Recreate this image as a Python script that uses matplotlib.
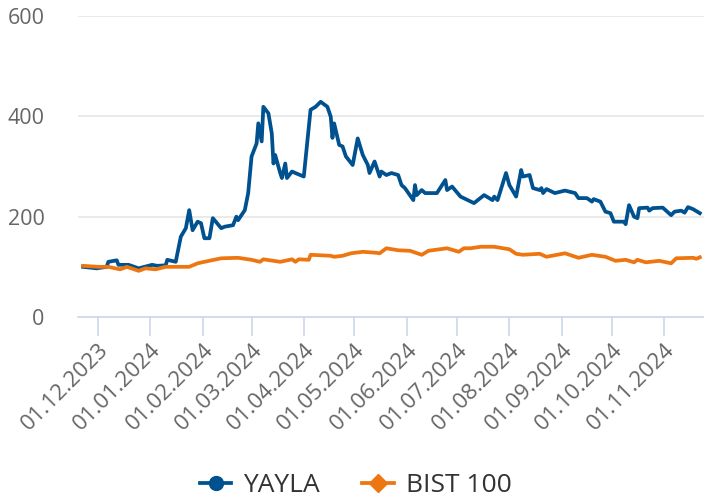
import pandas as pd
import matplotlib
matplotlib.use("Agg")
import matplotlib.pyplot as plt
import matplotlib.dates as mdates

plt.rcParams['font.family'] = ['Open Sans', 'DejaVu Sans']

# YAYLA, normalised to 100 at start
yayla_dates = [
    "2023-11-22", "2023-11-30", "2023-12-06", "2023-12-07", "2023-12-12", "2023-12-13",
    "2023-12-19", "2023-12-25", "2024-01-02", "2024-01-05", "2024-01-10", "2024-01-11",
    "2024-01-16", "2024-01-19", "2024-01-22", "2024-01-24", "2024-01-26", "2024-01-29",
    "2024-01-31", "2024-02-02", "2024-02-05", "2024-02-07", "2024-02-12", "2024-02-14",
    "2024-02-19", "2024-02-21", "2024-02-22", "2024-02-26", "2024-02-28", "2024-03-01",
    "2024-03-04", "2024-03-05", "2024-03-07", "2024-03-08", "2024-03-11", "2024-03-13",
    "2024-03-14", "2024-03-15", "2024-03-18", "2024-03-19", "2024-03-21", "2024-03-22",
    "2024-03-25", "2024-03-27", "2024-04-01", "2024-04-05", "2024-04-08", "2024-04-11",
    "2024-04-15", "2024-04-17", "2024-04-18", "2024-04-19", "2024-04-22", "2024-04-24",
    "2024-04-26", "2024-04-30", "2024-05-03", "2024-05-06", "2024-05-09", "2024-05-10",
    "2024-05-13", "2024-05-16", "2024-05-17", "2024-05-20", "2024-05-23", "2024-05-27",
    "2024-05-29", "2024-05-31", "2024-06-05", "2024-06-06", "2024-06-07", "2024-06-10",
    "2024-06-12", "2024-06-19", "2024-06-24", "2024-06-25", "2024-06-28", "2024-07-03",
    "2024-07-11", "2024-07-17", "2024-07-22", "2024-07-23", "2024-07-25", "2024-07-30",
    "2024-08-01", "2024-08-05", "2024-08-08", "2024-08-09", "2024-08-13", "2024-08-15",
    "2024-08-19", "2024-08-20", "2024-08-21", "2024-08-23", "2024-08-28", "2024-09-03",
    "2024-09-09", "2024-09-11", "2024-09-16", "2024-09-19", "2024-09-20", "2024-09-24",
    "2024-09-27", "2024-09-30", "2024-10-02", "2024-10-08", "2024-10-09", "2024-10-11",
    "2024-10-14", "2024-10-16", "2024-10-17", "2024-10-22", "2024-10-23", "2024-10-25",
    "2024-10-31", "2024-11-05", "2024-11-07", "2024-11-11", "2024-11-13", "2024-11-15",
    "2024-11-18", "2024-11-22",
]
yayla_values = [
    100, 97, 100, 110, 113, 104,
    104, 97, 104, 102, 103, 114,
    110, 160, 177, 213, 173, 190,
    187, 157, 157, 197, 177, 180,
    183, 200, 193, 213, 247, 320,
    346, 386, 350, 419, 406, 366,
    306, 323, 287, 277, 306, 277,
    290, 287, 280, 413, 419, 429,
    419, 399, 357, 386, 343, 340,
    320, 303, 356, 323, 303, 287,
    310, 280, 290, 283, 287, 283,
    263, 257, 233, 263, 243, 253,
    247, 247, 273, 253, 260, 240,
    227, 243, 233, 240, 233, 287,
    263, 240, 293, 280, 283, 257,
    253, 257, 247, 255, 247, 252,
    247, 237, 237, 230, 235, 230,
    210, 207, 190, 190, 185, 223,
    200, 197, 217, 218, 212, 217,
    218, 203, 210, 212, 208, 219,
    215, 207,
]

# BIST 100, normalised to 100 at start
bist_dates = [
    "2023-11-22", "2023-12-01", "2023-12-07", "2023-12-14", "2023-12-18", "2023-12-25",
    "2023-12-29", "2024-01-04", "2024-01-10", "2024-01-24", "2024-01-29", "2024-02-02",
    "2024-02-12", "2024-02-22", "2024-03-01", "2024-03-06", "2024-03-08", "2024-03-18",
    "2024-03-25", "2024-03-27", "2024-03-29", "2024-04-04", "2024-04-05", "2024-04-17",
    "2024-04-19", "2024-04-24", "2024-04-29", "2024-05-06", "2024-05-14", "2024-05-16",
    "2024-05-20", "2024-05-27", "2024-06-03", "2024-06-10", "2024-06-14", "2024-06-25",
    "2024-07-02", "2024-07-05", "2024-07-09", "2024-07-15", "2024-07-23", "2024-08-01",
    "2024-08-05", "2024-08-09", "2024-08-19", "2024-08-23", "2024-09-03", "2024-09-11",
    "2024-09-19", "2024-09-27", "2024-10-03", "2024-10-09", "2024-10-14", "2024-10-16",
    "2024-10-21", "2024-10-29", "2024-11-05", "2024-11-08", "2024-11-18", "2024-11-20",
    "2024-11-22",
]
bist_values = [
    102, 100, 100, 95, 100, 92,
    97, 95, 100, 100, 107, 110,
    117, 118, 114, 110, 115, 110,
    115, 110, 115, 114, 124, 122,
    120, 122, 127, 130, 128, 127,
    137, 133, 132, 124, 132, 137,
    130, 137, 137, 140, 140, 135,
    126, 124, 126, 120, 127, 118,
    124, 120, 112, 114, 109, 114,
    109, 112, 107, 117, 118, 116,
    119,
]

tick_dates = pd.date_range("2023-12-01", "2024-11-01", freq="MS")

blue = "#00518f"
orange = "#ee7611"

fig = plt.figure(figsize=(7.04, 4.99), dpi=100)
ax = fig.add_axes([78 / 704, 1 - 317 / 499, 626 / 704, 301 / 499])

ax.plot(pd.to_datetime(yayla_dates), yayla_values, color=blue, lw=2.7,
        marker='o', markersize=0.01, label="YAYLA", solid_joinstyle='round')
ax.plot(pd.to_datetime(bist_dates), bist_values, color=orange, lw=2.7,
        marker='D', markersize=0.01, label="BIST 100", solid_joinstyle='round')

ax.set_ylim(0, 600)
ax.set_yticks([0, 200, 400, 600])
ax.set_xlim(pd.Timestamp("2023-11-19"), pd.Timestamp("2024-11-24 12:00"))
ax.set_xticks(tick_dates)
ax.xaxis.set_major_formatter(mdates.DateFormatter("%d.%m.%Y"))

for s in ("top", "right", "left"):
    ax.spines[s].set_visible(False)
ax.spines["bottom"].set_color("#ccd6eb")
ax.spines["bottom"].set_linewidth(1.2)

ax.grid(axis="y", color="#e6e6e6", lw=1.2)
ax.set_axisbelow(True)

ax.tick_params(axis="y", length=0, pad=24, labelsize=15.5, labelcolor="#666666")
ax.tick_params(axis="x", length=13.5, width=1.2, color="#ccd6eb", pad=2.5,
               labelsize=16, labelcolor="#666666")
for lbl in ax.get_xticklabels():
    lbl.set_rotation(45)
    lbl.set_ha("right")
    lbl.set_rotation_mode("anchor")

leg = fig.legend(loc="center", bbox_to_anchor=(0.505, 1 - 486 / 499), ncol=2,
                 frameon=False, fontsize=19, handlelength=1.2, columnspacing=1.6,
                 handletextpad=0.45, labelcolor="#333333")
for h, m in zip(leg.legend_handles, ["o", "D"]):
    h.set_marker(m)
    h.set_markersize(10 if m == "o" else 9)

fig.savefig("out.png", dpi=100)
